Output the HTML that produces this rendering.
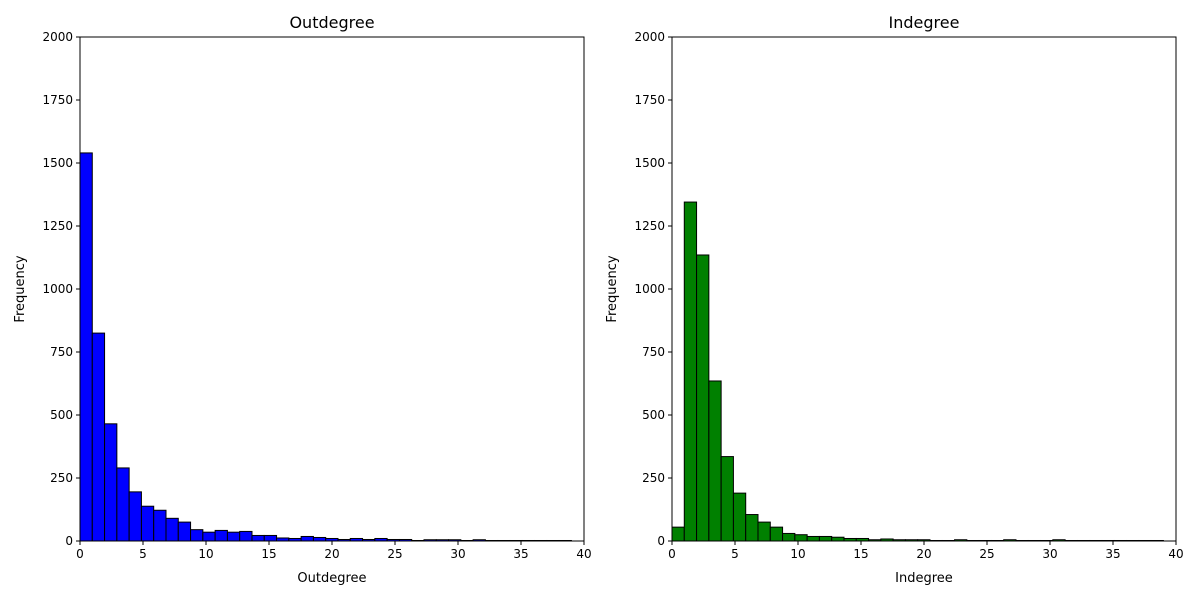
<!DOCTYPE html>
<html><head><meta charset="utf-8"><style>
body{margin:0;background:#fff;font-family:"Liberation Sans","DejaVu Sans",sans-serif;}
svg text{font-family:"DejaVu Sans","Liberation Sans",sans-serif;}
</style></head><body>
<svg id="c" width="1200" height="600" xmlns="http://www.w3.org/2000/svg"></svg>
<script>
const xTicks=[0,5,10,15,20,25,30,35,40];
const yTicks=[0,250,500,750,1000,1250,1500,1750,2000];
const binStart=0, binEnd=39;
const outCounts=[1540,825,465,290,195,138,122,90,75,45,35,42,35,38,22,22,12,10,18,14,10,6,10,6,10,6,6,2,5,5,5,2,5,2,2,2,2,2,2,2];
const inCounts=[55,1345,1135,635,335,190,105,75,55,30,25,18,18,15,10,10,5,8,5,5,5,2,2,5,2,2,2,5,2,2,2,5,2,2,2,2,2,2,2,2];
const svg=document.getElementById('c');
const NS='http://www.w3.org/2000/svg';
function mk(t,a,p){const e=document.createElementNS(NS,t);for(const k in a)e.setAttribute(k,a[k]);(p||svg).appendChild(e);return e;}
function panel(x0,counts,color,title,name){
  const x1=x0+504, yb=541, yt=37;
  const sx=v=>x0+(v/40)*(x1-x0);
  const sy=v=>yb-(v/2000)*(yb-yt);
  const g=mk('g',{});
  
  
  const w=(binEnd-binStart)/counts.length;
  counts.forEach((c,i)=>{
    const r=mk('rect',{x:sx(binStart+i*w),y:sy(c),width:sx(w)-sx(0),height:yb-sy(c),fill:color,stroke:'#000','stroke-width':1},g);
    
    
  });
  mk('rect',{x:x0,y:yt,width:x1-x0,height:yb-yt,fill:'none',stroke:'#000','stroke-width':1},g);
  xTicks.forEach(t=>{
    mk('line',{x1:sx(t),x2:sx(t),y1:yb,y2:yb+4,stroke:'#000'},g);
    const tx=mk('text',{x:sx(t),y:yb+17,'text-anchor':'middle','font-size':12},g);tx.textContent=t;
    
    
  });
  yTicks.forEach(t=>{
    mk('line',{x1:x0-4,x2:x0,y1:sy(t),y2:sy(t),stroke:'#000'},g);
    const tx=mk('text',{x:x0-7,y:sy(t)+4,'text-anchor':'end','font-size':12},g);tx.textContent=t;
    
    
  });
  const tt=mk('text',{x:(x0+x1)/2,y:28,'text-anchor':'middle','font-size':16},g);tt.textContent=title;
  
  
  const xl=mk('text',{x:(x0+x1)/2,y:582,'text-anchor':'middle','font-size':13},g);xl.textContent=title;
  
  
  const yl=mk('text',{x:0,y:0,'text-anchor':'middle','font-size':13,transform:`translate(${x0-56},${(yb+yt)/2}) rotate(-90)`},g);yl.textContent='Frequency';
  
  
}
panel(80,outCounts,'#0000ff','Outdegree','outdegree');
panel(672,inCounts,'#008000','Indegree','indegree');
</script>
</body></html>
